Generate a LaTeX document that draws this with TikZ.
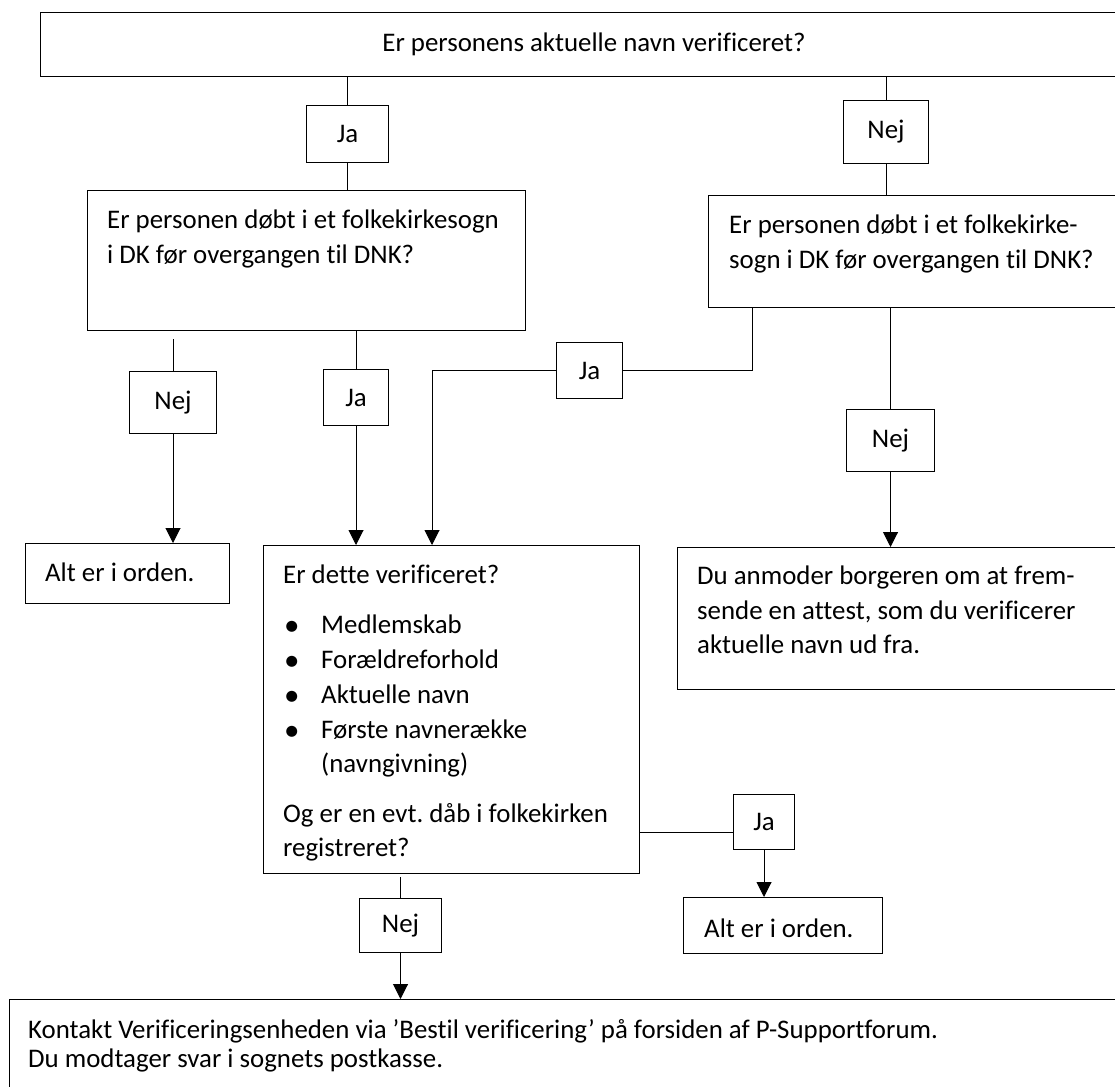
\documentclass[tikz,border=0pt]{standalone}
\usepackage{fontspec}
\setmainfont{Carlito}[Ligatures=NoCommon]
\usetikzlibrary{arrows.meta}
\frenchspacing
\begin{document}
\begin{tikzpicture}[x=1pt,y=-1pt,
  font=\fontsize{26.85}{35}\selectfont,
  box/.style={draw, line width=1pt, rectangle, inner sep=0pt, anchor=north west},
  txt/.style={anchor=base west, inner sep=0pt},
  bul/.style={anchor=base west, inner sep=0pt, font=\fontsize{31}{35}\selectfont},
  link/.style={line width=1pt},
  arr/.style={line width=1pt, -{Triangle[width=15pt,length=15pt]}}
]
\useasboundingbox (0,0) rectangle (1115,1086);
\clip (0,0) rectangle (1115,1086);
\fill[white] (0,0) rectangle (1115,1086);

% boxes
\node[box, minimum width=1112pt, minimum height=64pt] (top) at (40,12) {};
\node[box, minimum width=82pt, minimum height=57pt] (ja1) at (306,105) {Ja};
\node[box, minimum width=85pt, minimum height=63pt] (nej1) at (843,100) {Nej};
\node[box, minimum width=438pt, minimum height=140pt] (q1) at (87,190) {};
\node[box, minimum width=430pt, minimum height=112pt] (q2) at (708,195) {};
\node[box, minimum width=87pt, minimum height=62pt] (nejA) at (129,371) {Nej};
\node[box, minimum width=65pt, minimum height=56pt] (jaB) at (323,369) {Ja};
\node[box, minimum width=66pt, minimum height=56pt] (jaC) at (556,342) {Ja};
\node[box, minimum width=88pt, minimum height=62pt] (nejD) at (846,409) {Nej};
\node[box, minimum width=204pt, minimum height=60pt] (alt1) at (25,543) {};
\node[box, minimum width=376pt, minimum height=328pt] (mid) at (263,545) {};
\node[box, minimum width=460pt, minimum height=142pt] (anm) at (677,547) {};
\node[box, minimum width=61pt, minimum height=55pt] (jaE) at (733,794) {Ja};
\node[box, minimum width=199pt, minimum height=56pt] (alt2) at (683,897) {};
\node[box, minimum width=82pt, minimum height=54pt] (nejF) at (359,898) {Nej};
\node[box, minimum width=1130pt, minimum height=120pt] (bot) at (9,999) {};

% texts
\node[anchor=base, inner sep=0pt] (t0) at (594,52) {Er personens aktuelle navn verificeret?};
\node[txt] (q1a) at (107,228) {Er personen døbt i et folkekirkesogn};
\node[txt] (q1b) at (107,263) {i DK før overgangen til DNK?};
\node[txt] (q2a) at (729,233) {Er personen døbt i et folkekirke-};
\node[txt] (q2b) at (729,268) {sogn i DK før overgangen til DNK?};
\node[txt] (a1t) at (45,581) {Alt er i orden.};
\node[txt] (a2t) at (704,937) {Alt er i orden.};
\node[txt] (m0) at (283,583) {Er dette verificeret?};
\node[bul] (b1) at (284,635) {•};
\node[bul] (b2) at (284,670) {•};
\node[bul] (b3) at (284,705) {•};
\node[bul] (b4) at (284,740) {•};
\node[txt] (m1) at (321,633) {Medlemskab};
\node[txt] (m2) at (321,668) {Forældreforhold};
\node[txt] (m3) at (321,703) {Aktuelle navn};
\node[txt] (m4) at (321,738) {Første navnerække};
\node[txt] (m5) at (321,772) {(navngivning)};
\node[txt] (m6) at (283,822) {Og er en evt. dåb i folkekirken};
\node[txt] (m7) at (283,856) {registreret?};
\node[txt] (d1) at (697,584) {Du anmoder borgeren om at frem-};
\node[txt] (d2) at (697,619) {sende en attest, som du verificerer};
\node[txt] (d3) at (697,653) {aktuelle navn ud fra.};
\node[txt] (k1) at (28,1038) {Kontakt Verificeringsenheden via ’Bestil verificering’ på forsiden af P-Supportforum.};
\node[txt] (k2) at (28,1067) {Du modtager svar i sognets postkasse.};

% helper coordinates
\path (nejA.north |- q1.south) ++(0,8) coordinate (g1);
\path (nejF.north |- mid.south) ++(0,3) coordinate (f1);
\path (jaE.west) ++(0,10) coordinate (e1);
\path (q2.south west) ++(44,0) coordinate (q2o);
\path (mid.north west) ++(169,0) coordinate (midin);

% connectors
\draw[link] (ja1.north |- top.south) -- (ja1.north);
\draw[link] (ja1.south) -- (ja1.south |- q1.north);
\draw[link] (nej1.north |- top.south) -- (nej1.north);
\draw[link] (nej1.south) -- (nej1.south |- q2.north);
\draw[link] (g1) -- (nejA.north);
\draw[arr] (nejA.south) -- (nejA.south |- alt1.north);
\draw[link] (jaB.north |- q1.south) -- (jaB.north);
\draw[arr] (jaB.south) -- (jaB.south |- mid.north);
\draw[link] (q2o) |- (jaC.east);
\draw[arr] (jaC.west) -| (midin);
\draw[link] (nejD.north |- q2.south) -- (nejD.north);
\draw[arr] (nejD.south) -- (nejD.south |- anm.north);
\draw[link] (e1 -| mid.east) -- (e1);
\draw[arr] (jaE.south) -- (jaE.south |- alt2.north);
\draw[link] (f1) -- (nejF.north);
\draw[arr] (nejF.south) -- (nejF.south |- bot.north);
\end{tikzpicture}
\end{document}
